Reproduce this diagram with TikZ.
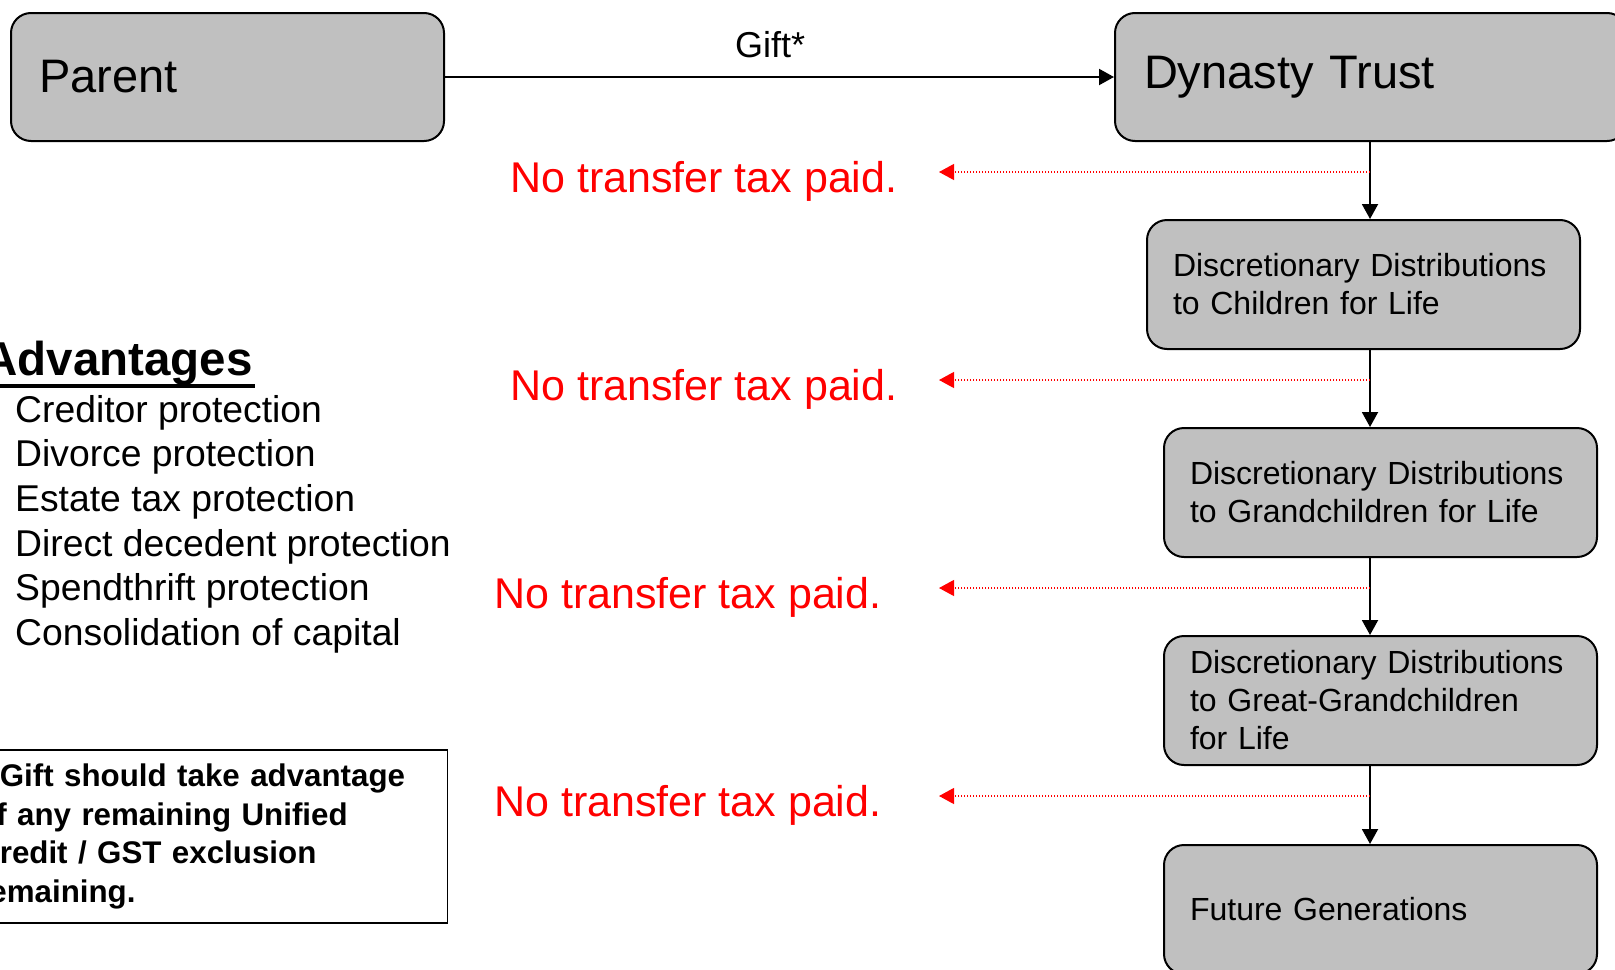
\documentclass[tikz,border=0pt]{standalone}
\usepackage{fontspec}
\setmainfont{Liberation Sans}
\usetikzlibrary{arrows.meta}
\definecolor{boxgray}{RGB}{192,192,192}
\definecolor{tred}{RGB}{255,0,0}
\newcommand\fsz[2]{\fontsize{#1bp}{#2bp}\selectfont}
\begin{document}
\begin{tikzpicture}[x=1bp,y=-1bp,
  gbox/.style={draw=black, line width=2bp, fill=boxgray, rounded corners=20bp, align=left, inner xsep=26bp, inner ysep=0pt, anchor=north west},
  big/.style={font=\fsz{47}{56}, minimum height=128bp},
  mid/.style={font=\fsz{32}{38}, text width=381bp, minimum height=129bp},
  blk/.style={line width=2bp, -{Triangle[length=15bp,width=16bp]}},
  redarr/.style={draw=tred, line width=1.2bp, dash pattern=on 1.5bp off 1.5bp, -{Triangle[length=15bp,width=16bp,fill=tred]}},
  redtxt/.style={text=tred, font=\fsz{43}{50}, anchor=base west, inner sep=0pt},
  item/.style={font=\fsz{37.3}{44}, anchor=base west, inner sep=0pt}]
\useasboundingbox (0,0) rectangle (1615,969);

% main boxes
\node[gbox, big, text width=377bp, inner xsep=28bp] (parent) at (10,12) {Parent};
\node[gbox, big, text width=454bp, inner xsep=29bp] (dyn) at (1114,12) {Dynasty Trust};
\node[gbox, mid] (c1) at (1146,219) {Discretionary Distributions\\to Children for Life};
\node[gbox, mid] (c2) at (1163,427) {Discretionary Distributions\\to Grandchildren for Life};
\node[gbox, mid] (c3) at (1163,635) {Discretionary Distributions\\to Great-Grandchildren\\for Life};
\node[gbox, mid] (c4) at (1163,844) {Future Generations};

% gift arrow
\draw[blk] (parent) -- (dyn);
\node[anchor=base, inner sep=0pt, font=\fsz{36}{42}] (gift) at (770,57) {Gift*};

% spine arrows
\coordinate (spine) at (1370,0);
\draw[blk] (dyn.south -| spine) -- (c1.north -| spine);
\draw[blk] (c1.south -| spine) -- (c2.north -| spine);
\draw[blk] (c2.south -| spine) -- (c3.north -| spine);
\draw[blk] (c3.south -| spine) -- (c4.north -| spine);

% red dotted arrows
\coordinate (t1) at (939,172);
\coordinate (t2) at (939,380);
\coordinate (t3) at (939,588);
\coordinate (t4) at (939,796);
\draw[redarr] (spine |- t1) -- (t1);
\draw[redarr] (spine |- t2) -- (t2);
\draw[redarr] (spine |- t3) -- (t3);
\draw[redarr] (spine |- t4) -- (t4);

\node[redtxt] (n1) at (510,192) {No transfer tax paid.};
\node[redtxt] (n2) at (510,400) {No transfer tax paid.};
\node[redtxt] (n3) at (494,608) {No transfer tax paid.};
\node[redtxt] (n4) at (494,816) {No transfer tax paid.};

% advantages
\node[font=\fsz{47.5}{56}\bfseries, anchor=base east, inner sep=0pt] (adv) at (253,375) {Advantages};
\draw[line width=4bp] ([yshift=-11bp]adv.base west) -- ([yshift=-11bp,xshift=2bp]adv.base east);
\node[item] (i1) at (15,422) {Creditor protection};
\node[item] (i2) at (15,466.7) {Divorce protection};
\node[item] (i3) at (15,511.4) {Estate tax protection};
\node[item] (i4) at (15,556.1) {Direct decedent protection};
\node[item] (i5) at (15,600.8) {Spendthrift protection};
\node[item] (i6) at (15,645.5) {Consolidation of capital};

% note box
\node[draw=black, line width=1.5bp, anchor=north east, text width=452bp, inner xsep=18bp, inner ysep=0pt, minimum height=173bp, align=left, font=\fsz{31.3}{38.5}\bfseries] (note) at (448,749) {* Gift should take advantage\\of any remaining Unified\\Credit / GST exclusion\\remaining.};
\end{tikzpicture}
\end{document}
